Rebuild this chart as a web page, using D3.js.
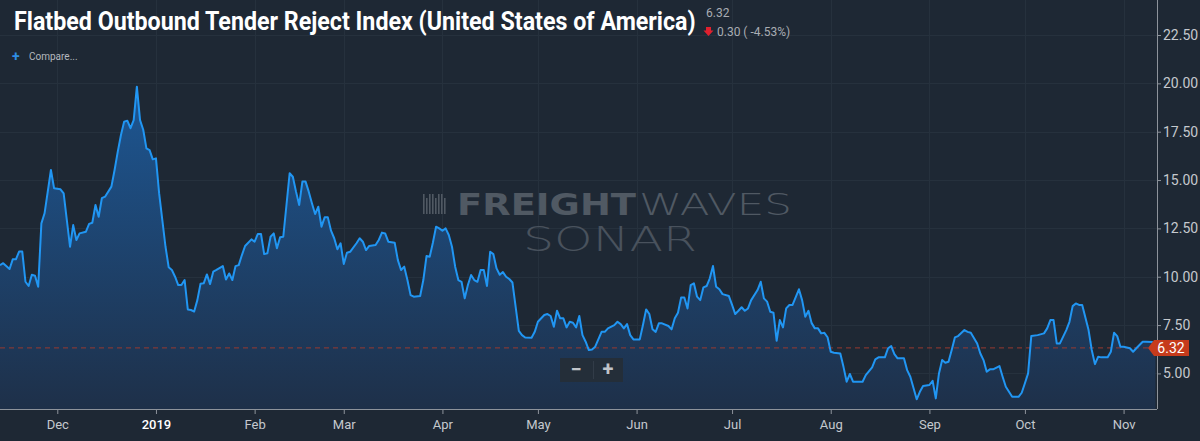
<html lang="en">
  <head>
    <meta charset="utf-8">
    <title>Flatbed Outbound Tender Reject Index</title>
    <script src="https://d3js.org/d3.v7.min.js"></script>
    <style>
      body { margin: 0; background: #1e2834; }
      svg { display: block; }
    </style>
  </head>
  <body>
    <script type="text/javascript">
      var w = 1200;
      var h = 441;
      var plot = {left: 0, right: 1157, top: 0, bottom: 409};

      // daily index readings (some days skipped)
      var dates = [
        "2018-11-13","2018-11-14","2018-11-16","2018-11-17","2018-11-18","2018-11-19","2018-11-20","2018-11-21","2018-11-22","2018-11-23",
        "2018-11-24","2018-11-25","2018-11-26","2018-11-27","2018-11-29","2018-11-30",
        "2018-12-02","2018-12-03","2018-12-04","2018-12-05","2018-12-06","2018-12-07","2018-12-08","2018-12-10","2018-12-11","2018-12-12",
        "2018-12-13","2018-12-14","2018-12-15","2018-12-16","2018-12-18","2018-12-19","2018-12-20","2018-12-21","2018-12-22","2018-12-23",
        "2018-12-24","2018-12-25","2018-12-26","2018-12-27","2018-12-28","2018-12-29","2018-12-30","2018-12-31",
        "2019-01-01","2019-01-02","2019-01-03","2019-01-04","2019-01-05","2019-01-06","2019-01-07","2019-01-08","2019-01-09","2019-01-10",
        "2019-01-11","2019-01-12","2019-01-13","2019-01-14","2019-01-15","2019-01-16","2019-01-17","2019-01-18","2019-01-19","2019-01-20",
        "2019-01-22","2019-01-23","2019-01-24","2019-01-25","2019-01-26","2019-01-27","2019-01-28","2019-01-29","2019-01-31",
        "2019-02-01","2019-02-02","2019-02-03","2019-02-04","2019-02-05","2019-02-06","2019-02-07","2019-02-08","2019-02-09","2019-02-10",
        "2019-02-11","2019-02-12","2019-02-13","2019-02-14","2019-02-15","2019-02-16","2019-02-17","2019-02-18","2019-02-19","2019-02-20",
        "2019-02-21","2019-02-22","2019-02-23","2019-02-24","2019-02-25","2019-02-26","2019-02-27","2019-02-28",
        "2019-03-01","2019-03-02","2019-03-03","2019-03-05","2019-03-06","2019-03-07","2019-03-08","2019-03-09","2019-03-11","2019-03-12",
        "2019-03-13","2019-03-14","2019-03-15","2019-03-17","2019-03-18","2019-03-19","2019-03-20","2019-03-21","2019-03-22","2019-03-23",
        "2019-03-25","2019-03-26","2019-03-27","2019-03-28","2019-03-29","2019-03-30","2019-03-31",
        "2019-04-01","2019-04-02","2019-04-03","2019-04-04","2019-04-05","2019-04-06","2019-04-07","2019-04-08","2019-04-09","2019-04-10",
        "2019-04-11","2019-04-12","2019-04-13","2019-04-14","2019-04-15","2019-04-16","2019-04-17","2019-04-18","2019-04-19","2019-04-20",
        "2019-04-21","2019-04-22","2019-04-23","2019-04-25","2019-04-26","2019-04-27","2019-04-29","2019-04-30",
        "2019-05-01","2019-05-03","2019-05-04","2019-05-05","2019-05-06","2019-05-07","2019-05-08","2019-05-09","2019-05-10","2019-05-11",
        "2019-05-12","2019-05-13","2019-05-14","2019-05-15","2019-05-16","2019-05-17","2019-05-18","2019-05-19","2019-05-21","2019-05-22",
        "2019-05-23","2019-05-25","2019-05-26","2019-05-27","2019-05-28","2019-05-29","2019-05-30","2019-05-31",
        "2019-06-02","2019-06-03","2019-06-04","2019-06-05","2019-06-06","2019-06-07","2019-06-08","2019-06-09","2019-06-11","2019-06-12",
        "2019-06-13","2019-06-14","2019-06-15","2019-06-16","2019-06-17","2019-06-18","2019-06-19","2019-06-20","2019-06-21","2019-06-22",
        "2019-06-23","2019-06-24","2019-06-25","2019-06-26","2019-06-27","2019-06-28","2019-06-30",
        "2019-07-01","2019-07-02","2019-07-03","2019-07-04","2019-07-05","2019-07-06","2019-07-07","2019-07-09","2019-07-10","2019-07-11",
        "2019-07-12","2019-07-13","2019-07-14","2019-07-15","2019-07-16","2019-07-17","2019-07-18","2019-07-19","2019-07-20","2019-07-22",
        "2019-07-23","2019-07-24","2019-07-25","2019-07-26","2019-07-27","2019-07-28","2019-07-29","2019-07-30","2019-07-31",
        "2019-08-01","2019-08-02","2019-08-04","2019-08-05","2019-08-06","2019-08-07","2019-08-08","2019-08-11","2019-08-12","2019-08-14",
        "2019-08-15","2019-08-16","2019-08-18","2019-08-19","2019-08-20","2019-08-21","2019-08-22","2019-08-24","2019-08-25","2019-08-26",
        "2019-08-28","2019-08-29","2019-08-30",
        "2019-09-01","2019-09-02","2019-09-03","2019-09-04","2019-09-05","2019-09-06","2019-09-07","2019-09-08","2019-09-09","2019-09-10",
        "2019-09-12","2019-09-13","2019-09-14","2019-09-16","2019-09-17","2019-09-18","2019-09-19","2019-09-20","2019-09-21","2019-09-23",
        "2019-09-24","2019-09-25","2019-09-27","2019-09-29","2019-09-30",
        "2019-10-01","2019-10-02","2019-10-03","2019-10-05","2019-10-07","2019-10-08","2019-10-09","2019-10-10","2019-10-11","2019-10-12",
        "2019-10-14","2019-10-15","2019-10-16","2019-10-17","2019-10-18","2019-10-19","2019-10-21","2019-10-22","2019-10-23","2019-10-24",
        "2019-10-25","2019-10-27","2019-10-28","2019-10-29","2019-10-30","2019-10-31",
        "2019-11-01","2019-11-03","2019-11-04","2019-11-05","2019-11-07","2019-11-08","2019-11-10","2019-11-11"
      ];
      var values = [
        10.6,10.7,10.4,10.9,10.9,11.3,11.3,9.74,9.52,10.1,
        10.05,9.48,12.76,13.28,15.52,14.57,
        14.52,14.31,12.93,11.55,12.67,11.9,12.24,12.33,12.73,12.79,
        13.71,13.1,14.06,14.14,14.66,15.52,16.47,17.33,18.02,18.07,
        17.68,18.1,19.83,18.1,17.6,16.64,16.55,16.07,
        16.12,14.31,12.93,11.55,10.49,10.35,10.0,9.57,9.57,9.83,
        8.31,8.28,8.2,8.79,9.64,9.66,10.12,9.62,10.26,10.35,
        10.55,9.86,10.17,9.83,10.55,10.6,11.12,11.59,11.93,
        11.81,12.21,12.21,11.17,11.21,12.07,12.24,11.47,12.04,12.07,
        13.71,15.35,15.17,14.4,13.71,14.92,14.92,14.4,13.8,13.24,
        13.62,12.59,13.07,13.07,12.38,11.99,11.42,11.73,
        10.66,11.24,11.29,11.73,11.99,11.81,11.38,11.59,11.64,11.9,
        12.28,12.24,11.81,11.76,10.86,10.35,10.52,9.83,9.05,8.97,
        9.0,9.83,11.07,11.03,11.76,12.59,12.5,
        12.38,12.5,12.16,11.55,10.52,9.83,9.74,8.88,9.57,10.09,
        9.83,9.74,10.35,10.35,9.52,11.29,11.17,10.43,10.1,10.24,
        10.0,9.88,9.7,7.2,6.98,6.86,6.84,7.15,
        7.67,8.02,8.07,7.97,7.41,8.24,7.85,7.85,7.38,7.67,
        7.62,7.38,7.97,6.98,6.64,6.21,6.24,6.38,7.15,7.15,
        7.33,7.5,7.67,7.55,7.33,7.55,6.98,6.76,
        6.76,7.5,8.31,8.07,7.28,7.15,7.59,7.59,7.45,7.28,
        7.85,8.14,8.93,8.93,8.36,9.57,9.66,8.97,8.79,9.45,
        9.52,9.92,10.55,9.48,9.35,9.1,9.0,
        8.54,8.07,8.24,8.42,8.24,8.36,8.79,9.31,9.74,8.88,
        8.71,8.19,8.14,6.69,7.76,7.38,8.36,8.54,8.54,9.35,
        8.79,7.93,8.24,7.6,7.33,7.33,7.07,7.1,6.87,
        6.12,6.07,6.03,5.34,4.57,4.97,4.57,4.57,4.91,5.31,
        5.73,5.83,5.83,6.3,6.41,6.0,5.78,5.78,5.17,4.83,
        3.66,4.05,4.35,
        4.4,4.62,3.71,5.0,5.69,5.55,5.6,6.21,6.86,6.93,
        7.24,7.15,7.1,6.55,6.03,5.69,5.09,5.21,5.21,5.38,
        4.83,4.31,3.79,3.79,4.0,
        4.49,5.0,6.93,6.98,7.07,7.33,7.76,7.76,6.55,6.55,
        7.24,7.67,8.48,8.62,8.54,8.54,7.24,6.21,5.48,5.86,
        5.83,5.83,6.12,7.1,6.93,6.38,
        6.38,6.3,6.12,6.3,6.64,6.64,6.62,6.32
      ];
      var xTickDates = ["2018-12-01","2019-01-01","2019-02-01","2019-03-01","2019-04-01","2019-05-01",
                        "2019-06-01","2019-07-01","2019-08-01","2019-09-01","2019-10-01","2019-11-01"];
      var xTickLabels = ["Dec","2019","Feb","Mar","Apr","May","Jun","Jul","Aug","Sep","Oct","Nov"];
      var yTicks = [5, 7.5, 10, 12.5, 15, 17.5, 20, 22.5];
      var lastValue = 6.32;
      var change = "0.30 ( -4.53%)";

      var parse = d3.utcParse("%Y-%m-%d");
      var data = dates.map(function(d, i) { return {date: parse(d), value: values[i]}; });

      var xScale = d3.scaleUtc()
          .domain([parse("2018-11-13"), new Date(Date.UTC(2019, 10, 11, 12))])
          .range([plot.left, plot.right]);
      var yScale = d3.scaleLinear()
          .domain([3.16, 24.31])
          .range([plot.bottom, plot.top]);

      var svg = d3.select("body").append("svg")
          .attr("width", w)
          .attr("height", h)
          .style("font-family", "Roboto, 'Noto Sans', sans-serif");

      svg.append("rect").attr("width", w).attr("height", h).attr("fill", "#1e2834");

      var defs = svg.append("defs");
      var grad = defs.append("linearGradient")
          .attr("id", "areaGrad")
          .attr("gradientUnits", "userSpaceOnUse")
          .attr("x1", 0).attr("x2", 0)
          .attr("y1", yScale(20)).attr("y2", plot.bottom);
      grad.append("stop").attr("offset", "0%").attr("stop-color", "#1d5794");
      grad.append("stop").attr("offset", "100%").attr("stop-color", "#1e3049");
      defs.append("clipPath").attr("id", "plotClip")
        .append("rect").attr("x", plot.left).attr("y", plot.top)
        .attr("width", plot.right - plot.left).attr("height", plot.bottom - plot.top);

      // grid
      var grid = svg.append("g").attr("stroke", "#26313d").attr("stroke-width", 1);
      grid.selectAll(".vg").data(xTickDates).enter().append("line")
          .attr("x1", function(d) { return Math.round(xScale(parse(d))) + 0.5; })
          .attr("x2", function(d) { return Math.round(xScale(parse(d))) + 0.5; })
          .attr("y1", plot.top).attr("y2", plot.bottom);
      grid.selectAll(".hg").data(yTicks).enter().append("line")
          .attr("x1", plot.left).attr("x2", plot.right)
          .attr("y1", function(d) { return Math.round(yScale(d)) + 0.5; })
          .attr("y2", function(d) { return Math.round(yScale(d)) + 0.5; });

      // watermark
      var wm = svg.append("g").attr("fill", "#505963");
      [0,1,2,3,4,5,6,7].forEach(function(i) {
        wm.append("rect").attr("x", 423 + i * 3).attr("y", 194 + (i % 3 == 1 ? 4 : 0))
          .attr("width", 1.6).attr("height", 20 - (i % 3 == 1 ? 4 : 0));
      });
      wm.append("text").attr("x", 457).attr("y", 215)
          .attr("font-family", "'DejaVu Sans'").attr("font-weight", "bold").attr("font-size", 30)
          .attr("textLength", 179).attr("lengthAdjust", "spacingAndGlyphs").text("FREIGHT");
      wm.append("text").attr("x", 639).attr("y", 215)
          .attr("font-family", "'DejaVu Sans'").attr("font-weight", 200).attr("font-size", 30)
          .attr("textLength", 153).attr("lengthAdjust", "spacingAndGlyphs").text("WAVES");
      wm.append("text").attr("x", 523).attr("y", 251)
          .attr("font-family", "'DejaVu Sans'").attr("font-weight", 200).attr("font-size", 33)
          .attr("fill", "#49525d")
          .attr("textLength", 174).attr("lengthAdjust", "spacingAndGlyphs").text("SONAR");

      // area + line
      var area = d3.area()
          .x(function(d) { return xScale(d.date); })
          .y0(plot.bottom)
          .y1(function(d) { return yScale(d.value); });
      var line = d3.line()
          .x(function(d) { return xScale(d.date); })
          .y(function(d) { return yScale(d.value); });
      var plotG = svg.append("g").attr("clip-path", "url(#plotClip)");
      plotG.append("path").datum(data).attr("d", area).attr("fill", "url(#areaGrad)");

      // last value dashed line
      plotG.append("line")
          .attr("x1", plot.left).attr("x2", plot.right)
          .attr("y1", yScale(lastValue)).attr("y2", yScale(lastValue))
          .attr("stroke", "#9a3a30").attr("stroke-width", 1).attr("stroke-dasharray", "5,4");

      plotG.append("path").datum(data).attr("d", line)
          .attr("fill", "none").attr("stroke", "#2196f3").attr("stroke-width", 2)
          .attr("stroke-linejoin", "round");

      // axes
      var xAxis = d3.axisBottom(xScale)
          .tickValues(xTickDates.map(parse))
          .tickFormat(function(d, i) { return xTickLabels[i]; })
          .tickSize(5).tickPadding(6);
      var gx = svg.append("g")
          .attr("transform", "translate(0," + plot.bottom + ")")
          .call(xAxis);
      gx.select(".domain").attr("stroke", "#8d939b").attr("d", "M" + plot.left + ",0.5H" + plot.right);
      gx.selectAll(".tick line").attr("stroke", "#8d939b");
      gx.selectAll(".tick text").attr("font-size", 13)
          .attr("font-family", "Roboto")
          .attr("font-weight", function(d, i) { return xTickLabels[i] == "2019" ? 500 : 400; })
          .attr("fill", function(d, i) { return xTickLabels[i] == "2019" ? "#ffffff" : "#c5c9ce"; });

      var yAxis = d3.axisRight(yScale)
          .tickValues(yTicks)
          .tickFormat(d3.format(".2f"))
          .tickSize(4).tickPadding(2);
      var gy = svg.append("g")
          .attr("transform", "translate(" + plot.right + ",0)")
          .call(yAxis);
      gy.select(".domain").attr("stroke", "#8d939b").attr("d", "M0.5," + plot.top + "V" + plot.bottom);
      gy.selectAll(".tick line").attr("stroke", "#8d939b");
      gy.selectAll(".tick text").attr("fill", "#c5c9ce").attr("font-size", 14).attr("font-family", "Roboto");

      // last value tag
      var ty = yScale(lastValue);
      svg.append("path")
          .attr("d", "M1148," + ty + "L1154," + (ty - 8) + "H1189V" + (ty + 8) + "H1154Z")
          .attr("fill", "#c63b1c");
      svg.append("text").attr("x", 1171).attr("y", ty + 5)
          .attr("text-anchor", "middle").attr("fill", "#ffffff").attr("font-size", 14)
          .text(d3.format(".2f")(lastValue));

      // zoom buttons
      var zb = svg.append("g");
      zb.append("rect").attr("x", 560).attr("y", 358).attr("width", 63).attr("height", 24)
          .attr("fill", "#242e39");
      zb.append("line").attr("x1", 593.5).attr("x2", 593.5).attr("y1", 361).attr("y2", 379)
          .attr("stroke", "#323c48");
      zb.append("text").attr("x", 576).attr("y", 376).attr("text-anchor", "middle")
          .attr("fill", "#c0c4c9").attr("font-size", 20).attr("font-weight", "bold").text("−");
      zb.append("text").attr("x", 608).attr("y", 376).attr("text-anchor", "middle")
          .attr("fill", "#c0c4c9").attr("font-size", 20).attr("font-weight", "bold").text("+");

      // title: squeeze horizontally to the reference width
      var title = svg.append("text").attr("x", 0).attr("y", 0)
          .attr("font-family", "'Liberation Sans Narrow', Roboto, sans-serif")
          .attr("font-weight", "bold").attr("font-size", 25).attr("fill", "#ffffff")
          .text("Flatbed Outbound Tender Reject Index (United States of America)");
      var tl = title.node().getComputedTextLength();
      var sx = Math.min(1, 682 / tl);
      title.attr("transform", "translate(14,30) scale(" + sx + ",1)");

      svg.append("text").attr("x", 706).attr("y", 17)
          .attr("font-size", 12).attr("fill", "#a9adb3").text(d3.format(".2f")(lastValue));
      svg.append("path").attr("d", "M706,27h5v3.5h2.5l-5,5.5l-5,-5.5h2.5z").attr("fill", "#e0202e");
      svg.append("text").attr("x", 717).attr("y", 36)
          .attr("font-size", 12).attr("fill", "#a9adb3").text(change);

      svg.append("text").attr("x", 12).attr("y", 61)
          .attr("font-size", 14).attr("font-weight", "bold").attr("fill", "#2f8de4").text("+");
      svg.append("text").attr("x", 29).attr("y", 60)
          .attr("font-size", 10).attr("fill", "#b4b8be").text("Compare...");
    </script>
  </body>
</html>
